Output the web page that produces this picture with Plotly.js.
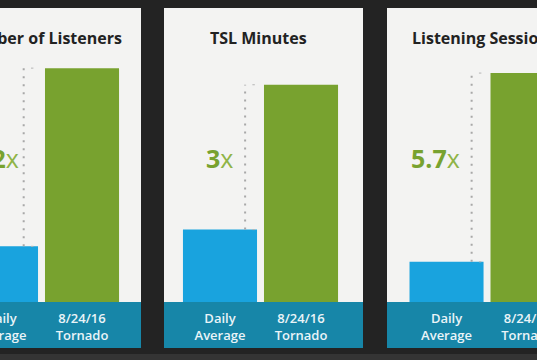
<!DOCTYPE html>
<html>
<head>
<meta charset="utf-8">
<script src="https://cdn.plot.ly/plotly-3.0.1.min.js"></script>
<style>html,body{margin:0;padding:0;background:#232323;}#chart{width:537px;height:360px;}</style>
</head>
<body>
<div id="chart"></div>
<script>
// ---- data ----
const panelTitles = ["Number of Listeners", "TSL Minutes", "Listening Sessions"];
const categories = ["Daily<br>Average", "8/24/16<br>Tornado"];
const dailyAverage = [1, 1, 1];          // normalised daily average
const tornado = [4.2, 3.0, 5.7];          // 8/24/16 tornado, relative to daily average
const multiplierText = ["4.2", "3", "5.7"];

// ---- layout helpers (pixels) ----
const W = 537, H = 360;
const px = v => v / W;
const py = v => (H - v) / H;
const panelsPx = [[0, 141], [164, 363], [387, 540]];
const xRanges = [[-0.0123, 1.728], [-0.691, 1.765], [-0.735, 1.117]];
const yMax = [5.28, 4.06, 7.32];
const titleCenters = [40, 258, 484];
const dotX = [0.28, 0.31, 0.31];
const labelX = [0.25, 0.19, 0.19];
const plotTop = 8, plotBottom = 302, stripBottom = 348;

const blue = "#19a3de", green = "#78a22f", teal = "#1786a8";

const data = [];
const layout = {
  width: W, height: H,
  margin: {l: 0, r: 0, t: 0, b: 0},
  paper_bgcolor: "#232323",
  plot_bgcolor: "rgba(0,0,0,0)",
  showlegend: false,
  bargap: 0.086,
  shapes: [{type: "rect", xref: "paper", yref: "paper", layer: "below",
    x0: 0, x1: 1, y0: 0, y1: py(354), fillcolor: "#343434", line: {width: 0}}],
  annotations: []
};

panelTitles.forEach((title, i) => {
  const s = i === 0 ? "" : String(i + 1);
  const xa = "xaxis" + s, ya = "yaxis" + s;
  const xr = "x" + s, yr = "y" + s;
  data.push({
    type: "bar",
    x: categories,
    y: [dailyAverage[i], tornado[i]],
    xaxis: xr, yaxis: yr,
    marker: {color: [blue, green], line: {width: 0}},
    hoverinfo: "skip"
  });
  layout[xa] = {
    domain: [Math.max(0, px(panelsPx[i][0])), Math.min(1, px(panelsPx[i][1]))],
    anchor: yr,
    type: "category",
    range: xRanges[i],
    showgrid: false, zeroline: false, showline: false, ticks: "",
    tickfont: {family: "Open Sans", size: 13, color: "#eaf4f8", weight: 600},
    ticklabelstandoff: 7,
    fixedrange: true
  };
  layout[ya] = {
    domain: [py(plotBottom), py(plotTop)],
    anchor: xr,
    range: [0, yMax[i]],
    visible: false,
    fixedrange: true
  };
  // panel background & strip
  layout.shapes.push({type: "rect", xref: "paper", yref: "paper", layer: "below",
    x0: px(panelsPx[i][0]), x1: px(panelsPx[i][1]), y0: py(plotBottom), y1: py(plotTop),
    fillcolor: "#f3f3f2", line: {width: 0}});
  layout.shapes.push({type: "rect", xref: "paper", yref: "paper", layer: "below",
    x0: px(panelsPx[i][0]), x1: px(panelsPx[i][1]), y0: py(stripBottom), y1: py(plotBottom),
    fillcolor: teal, line: {width: 0}});
  // dotted connector between the two bar tops
  layout.shapes.push({type: "line", xref: xr, yref: yr,
    x0: dotX[i], x1: dotX[i], y0: dailyAverage[i], y1: tornado[i],
    line: {color: "#a8a8a8", width: 2, dash: "2px,6px"}});
  layout.shapes.push({type: "line", xref: xr, yref: yr,
    x0: dotX[i] + 0.09, x1: dotX[i] + 0.12, y0: tornado[i], y1: tornado[i],
    line: {color: "#b5b5b5", width: 1}});
  layout.shapes.push({type: "line", xref: xr, yref: yr,
    x0: dotX[i] + 0.09, x1: dotX[i] + 0.12, y0: dailyAverage[i], y1: dailyAverage[i],
    line: {color: "#b5b5b5", width: 1}});
  // title
  layout.annotations.push({xref: "paper", yref: "paper",
    x: px(titleCenters[i]), y: py(38), xanchor: "center", yanchor: "middle",
    text: title, showarrow: false,
    font: {family: "Open Sans", size: 16, color: "#222222", weight: 700}});
  // multiplier label
  layout.annotations.push({xref: xr, yref: "paper",
    x: labelX[i], y: py(158), xanchor: "right", yanchor: "middle",
    text: "<b>" + multiplierText[i] + "</b><span style='font-weight:400;color:#8fb447'>x</span>",
    showarrow: false,
    font: {family: "Open Sans", size: 25, color: green}});
});

Plotly.newPlot("chart", data, layout, {displayModeBar: false, staticPlot: true});
</script>
</body>
</html>
